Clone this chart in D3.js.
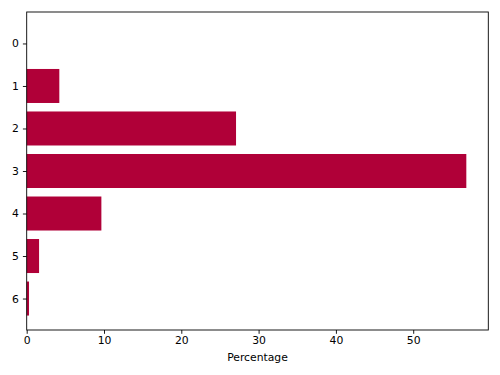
<!DOCTYPE html>
<html>
<head>
<meta charset="utf-8">
<script src="https://cdn.jsdelivr.net/npm/d3@7.9.0/dist/d3.min.js"></script>
<style>
  body { margin: 0; background: #fff; }
  svg { font-family: "DejaVu Sans", sans-serif; }
</style>
</head>
<body>
<svg width="500" height="375"></svg>
<script>
// categories on the y axis and their percentages
const categories = [0, 1, 2, 3, 4, 5, 6];
const percentages = [0, 4.22, 27.08, 56.87, 9.66, 1.6, 0.3];
const xTicks = [0, 10, 20, 30, 40, 50];

const svg = d3.select('svg');
const plotLeft = 26.7, plotRight = 488.3, plotTop = 12, plotBottom = 330;

const xMax = d3.max(percentages) * 1.05;
let x = d3.scaleLinear().domain([0, xMax]).range([plotLeft, plotRight]);
// bars span -0.4..6.4, plus 5% margins like matplotlib
let pad = (categories.length - 1 + 0.8) * 0.05;
let y = d3.scaleLinear().domain([-0.4 - pad, categories.length - 1 + 0.4 + pad]).range([plotTop, plotBottom]);

svg.selectAll('rect.bar')
  .data(categories)
  .enter()
  .append('rect')
  .attr('class', 'bar')
  .attr('x', x(0))
  .attr('y', (d) => y(d - 0.4))
  .attr('width', (d, i) => x(percentages[i]) - x(0))
  .attr('height', (d) => y(d + 0.4) - y(d - 0.4))
  .attr('fill', '#b00038');

// axes
let xAxis = d3.axisBottom(x).tickValues(xTicks).tickSize(3.8).tickPadding(3);
let yAxis = d3.axisLeft(y).tickValues(categories).tickSize(3.8).tickPadding(4);

let gx = svg.append('g').attr('transform', `translate(0,${plotBottom})`).call(xAxis);
let gy = svg.append('g').attr('transform', `translate(${plotLeft},0)`).call(yAxis);
[gx, gy].forEach((g) => {
  g.select('.domain').remove();
  g.selectAll('text').attr('font-size', '10.8px').attr('fill', '#000').attr('font-family', '"DejaVu Sans", sans-serif');
  g.selectAll('line').attr('stroke', '#000').attr('stroke-width', 0.9);
});

// frame
svg.append('rect')
  .attr('x', plotLeft).attr('y', plotTop)
  .attr('width', plotRight - plotLeft).attr('height', plotBottom - plotTop)
  .attr('fill', 'none').attr('stroke', '#000').attr('stroke-width', 0.9);

svg.append('text')
  .attr('x', (plotLeft + plotRight) / 2)
  .attr('y', 361)
  .attr('text-anchor', 'middle')
  .attr('font-size', '10.8px')
  .text('Percentage');
</script>
</body>
</html>
